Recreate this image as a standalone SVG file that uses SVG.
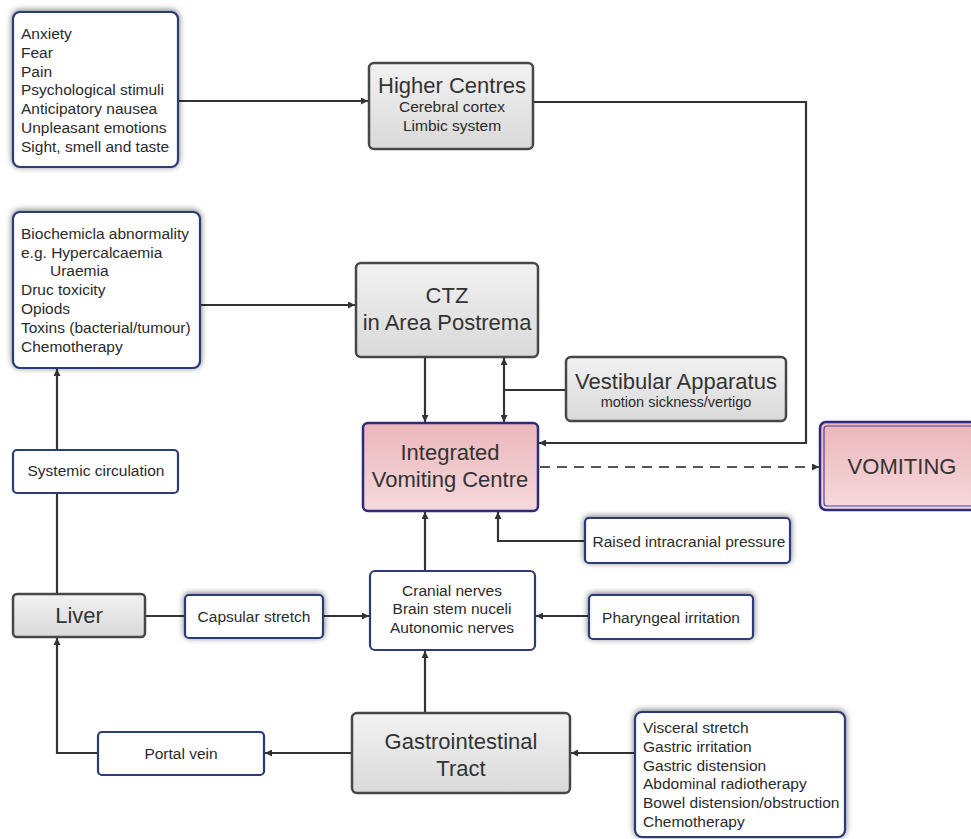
<svg xmlns="http://www.w3.org/2000/svg" width="971" height="839" viewBox="0 0 971 839">
<defs>
  <linearGradient id="gray" x1="0" y1="0" x2="0" y2="1">
    <stop offset="0" stop-color="#f2f2f2"/>
    <stop offset="1" stop-color="#d9d9d9"/>
  </linearGradient>
  <linearGradient id="pink" x1="0" y1="0" x2="0" y2="1">
    <stop offset="0" stop-color="#ebb6bb"/>
    <stop offset="1" stop-color="#f6d9dc"/>
  </linearGradient>
  <filter id="sh" x="-10%" y="-15%" width="120%" height="130%">
    <feGaussianBlur in="SourceAlpha" stdDeviation="3"/>
    <feOffset dx="0" dy="-1" result="b"/>
    <feComponentTransfer><feFuncA type="linear" slope="0.55"/></feComponentTransfer>
    <feMerge><feMergeNode/><feMergeNode in="SourceGraphic"/></feMerge>
  </filter>
  <marker id="arr" viewBox="0 0 10 10" refX="10" refY="5" markerWidth="7" markerHeight="7" markerUnits="userSpaceOnUse" orient="auto">
    <path d="M0,0 L10,5 L0,10 z" fill="#333"/>
  </marker>
</defs>
<style>
  .wb { fill: #ffffff; stroke: #2b3a78; stroke-width: 2.2; }
  .gb { fill: url(#gray); stroke: #474747; stroke-width: 2.5; }
  .pb { fill: url(#pink); stroke: #2e2a80; stroke-width: 2.5; }
  .t { font-family: "Liberation Sans", Arial, sans-serif; fill: #2a2a2a; }
  .s14 { font-size: 15.5px; }
  .s20 { font-size: 22px; fill: #333; }
  .c { text-anchor: middle; }
  .ln { fill: none; stroke: #333; stroke-width: 2.2; }
  .dash { fill: none; stroke: #555; stroke-width: 2.2; stroke-dasharray: 10 7; }
</style>
<rect width="971" height="839" fill="#ffffff"/>

<g id="connectors">
  <path class="ln" d="M178,101 H368" marker-end="url(#arr)"/>
  <path class="ln" d="M533,102 H806 V443 H539" marker-end="url(#arr)"/>
  <path class="ln" d="M200,305 H355" marker-end="url(#arr)"/>
  <path class="ln" d="M425,357 V422" marker-end="url(#arr)"/>
  <path class="ln" d="M566,390 H504"/>
  <path class="ln" d="M504,390 V358" marker-end="url(#arr)"/>
  <path class="ln" d="M504,390 V422" marker-end="url(#arr)"/>
  <path class="dash" d="M540,467 H819" marker-end="url(#arr)"/>
  <path class="ln" d="M585,541 H498 V512" marker-end="url(#arr)"/>
  <path class="ln" d="M425,571 V512" marker-end="url(#arr)"/>
  <path class="ln" d="M589,616 H536" marker-end="url(#arr)"/>
  <path class="ln" d="M145,616 H185"/>
  <path class="ln" d="M323,616 H369" marker-end="url(#arr)"/>
  <path class="ln" d="M425,713 V651" marker-end="url(#arr)"/>
  <path class="ln" d="M635,753 H571" marker-end="url(#arr)"/>
  <path class="ln" d="M352,753 H265" marker-end="url(#arr)"/>
  <path class="ln" d="M98,753 H57 V638" marker-end="url(#arr)"/>
  <path class="ln" d="M57,594 V493"/>
  <path class="ln" d="M57,450 V369" marker-end="url(#arr)"/>
</g>

<g id="emotional">
  <rect class="wb" x="13" y="12" width="165" height="155" rx="7" filter="url(#sh)"/>
  <text class="t s14" x="21" y="38.5">Anxiety</text>
  <text class="t s14" x="21" y="57.5">Fear</text>
  <text class="t s14" x="21" y="76.5">Pain</text>
  <text class="t s14" x="21" y="94.5">Psychological stimuli</text>
  <text class="t s14" x="21" y="113.5">Anticipatory nausea</text>
  <text class="t s14" x="21" y="132.5">Unpleasant emotions</text>
  <text class="t s14" x="21" y="151.5">Sight, smell and taste</text>
</g>

<g id="higher-centres">
  <rect class="gb" x="369" y="63" width="164" height="86" rx="5"/>
  <text class="t s20 c" x="452" y="93">Higher Centres</text>
  <text class="t s14 c" x="452" y="111.5">Cerebral cortex</text>
  <text class="t s14 c" x="452" y="130.5">Limbic system</text>
</g>

<g id="biochemical">
  <rect class="wb" x="13" y="212" width="187" height="156" rx="7" filter="url(#sh)"/>
  <text class="t s14" x="21" y="238.5">Biochemicla abnormality</text>
  <text class="t s14" x="21" y="257.5">e.g. Hypercalcaemia</text>
  <text class="t s14" x="50" y="275.5">Uraemia</text>
  <text class="t s14" x="21" y="294.5">Druc toxicity</text>
  <text class="t s14" x="21" y="313.5">Opiods</text>
  <text class="t s14" x="21" y="332.5">Toxins (bacterial/tumour)</text>
  <text class="t s14" x="21" y="351.5">Chemotherapy</text>
</g>

<g id="ctz">
  <rect class="gb" x="356" y="263" width="182" height="94" rx="5"/>
  <text class="t s20 c" x="447" y="303">CTZ</text>
  <text class="t s20 c" x="447" y="330">in Area Postrema</text>
</g>

<g id="vestibular">
  <rect class="gb" x="566" y="357" width="220" height="64" rx="5"/>
  <text class="t s20 c" x="676" y="389">Vestibular Apparatus</text>
  <text class="t c" x="676" y="407" style="font-size:14.5px">motion sickness/vertigo</text>
</g>

<g id="vomiting-centre">
  <rect class="pb" x="363" y="423" width="175" height="88" rx="5"/>
  <text class="t s20 c" x="450" y="460">Integrated</text>
  <text class="t s20 c" x="450" y="487">Vomiting Centre</text>
</g>

<g id="vomiting">
  <rect class="pb" x="820" y="422" width="160" height="88" rx="6"/>
  <rect x="824" y="426" width="152" height="80" rx="3" fill="none" stroke="#4a45a0" stroke-width="1.2"/>
  <text class="t s20 c" x="902" y="474">VOMITING</text>
</g>

<g id="systemic">
  <rect class="wb" x="13" y="450" width="165" height="43" rx="4"/>
  <text class="t s14 c" x="96" y="475.5">Systemic circulation</text>
</g>

<g id="raised-icp">
  <rect class="wb" x="585" y="518" width="205" height="45" rx="4" filter="url(#sh)"/>
  <text class="t s14 c" x="689" y="546.5">Raised intracranial pressure</text>
</g>

<g id="liver">
  <rect class="gb" x="13" y="594" width="132" height="43" rx="4"/>
  <text class="t s20 c" x="79" y="623">Liver</text>
</g>

<g id="capsular">
  <rect class="wb" x="185" y="595" width="138" height="43" rx="4" filter="url(#sh)"/>
  <text class="t s14 c" x="254" y="621.5">Capsular stretch</text>
</g>

<g id="cranial">
  <rect class="wb" x="370" y="571" width="165" height="79" rx="5"/>
  <text class="t s14 c" x="452" y="595.5">Cranial nerves</text>
  <text class="t s14 c" x="452" y="613.5">Brain stem nuceli</text>
  <text class="t s14 c" x="452" y="632.5">Autonomic nerves</text>
</g>

<g id="pharyngeal">
  <rect class="wb" x="589" y="595" width="164" height="44" rx="4" filter="url(#sh)"/>
  <text class="t s14 c" x="671" y="622.5">Pharyngeal irritation</text>
</g>

<g id="portal-vein">
  <rect class="wb" x="98" y="732" width="166" height="43" rx="4"/>
  <text class="t s14 c" x="181" y="758.5">Portal vein</text>
</g>

<g id="gi-tract">
  <rect class="gb" x="352" y="713" width="218" height="80" rx="5"/>
  <text class="t s20 c" x="461" y="749">Gastrointestinal</text>
  <text class="t s20 c" x="461" y="776">Tract</text>
</g>

<g id="gi-causes">
  <rect class="wb" x="635" y="712" width="210" height="125" rx="7" filter="url(#sh)"/>
  <text class="t s14" x="643" y="732.5">Visceral stretch</text>
  <text class="t s14" x="643" y="751.5">Gastric irritation</text>
  <text class="t s14" x="643" y="770.5">Gastric distension</text>
  <text class="t s14" x="643" y="788.5">Abdominal radiotherapy</text>
  <text class="t s14" x="643" y="807.5">Bowel distension/obstruction</text>
  <text class="t s14" x="643" y="826.5">Chemotherapy</text>
</g>
</svg>
